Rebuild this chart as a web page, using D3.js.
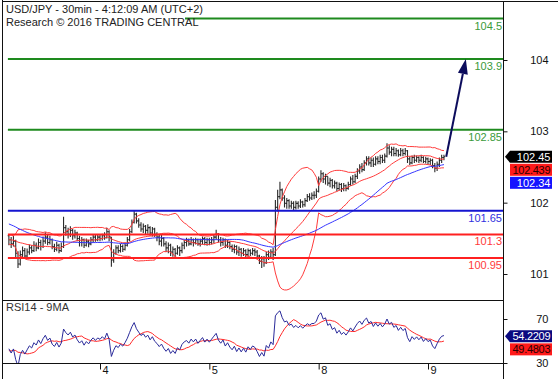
<!DOCTYPE html>
<html>
<head>
<meta charset="utf-8">
<script src="https://cdn.jsdelivr.net/npm/d3@7"></script>
<style>
body { margin: 0; background: #fff; }
svg text { font-family: "Liberation Sans", Arial, sans-serif; font-size: 11px; }
</style>
</head>
<body>
<script>
// day boundaries (bar index of 00:00) and their labels
const dayStarts = [40, 88, 136, 184];
const dayLabels = ["4", "5", "8", "9"];

// closes before the first visible bar, only used to seed the indicators
const warmupCloses = [101.92,101.88,101.90,101.84,101.86,101.80,101.82,101.76,101.78,101.72,
  101.74,101.70,101.66,101.68,101.62,101.64,101.58,101.60,101.54,101.56,
  101.50,101.52,101.46,101.48,101.42,101.44,101.38,101.40,101.34,101.36,
  101.30,101.26,101.28,101.22,101.24,101.18,101.20,101.16,101.22,101.18,
  101.24,101.20,101.26,101.22,101.18,101.24,101.20,101.26,101.22,101.28];

// 30min bars
const closes = [101.22,101.16,101.20,101.02,100.86,101.00,101.06,100.98,101.04,101.10,
  101.06,101.14,101.10,101.18,101.12,101.20,101.26,101.18,101.22,101.12,
  101.08,101.14,101.06,101.12,101.40,101.34,101.30,101.36,101.28,101.32,
  101.24,101.18,101.22,101.14,101.20,101.16,101.22,101.26,101.22,101.26,
  101.24,101.28,101.25,101.34,101.26,100.92,101.02,101.10,101.06,101.12,
  101.08,101.14,101.22,101.34,101.48,101.60,101.50,101.44,101.38,101.42,
  101.36,101.40,101.32,101.38,101.30,101.26,101.20,101.24,101.16,101.10,
  101.14,101.04,101.08,101.02,101.10,101.06,101.14,101.18,101.20,101.16,
  101.22,101.18,101.22,101.16,101.20,101.24,101.18,101.22,101.18,101.22,
  101.26,101.30,101.22,101.18,101.22,101.14,101.18,101.12,101.08,101.12,
  101.04,101.08,101.02,101.06,101.00,101.06,101.02,101.06,101.04,100.98,
  100.90,100.94,100.88,101.00,100.96,101.04,101.00,101.70,101.86,101.96,
  101.84,101.76,101.80,101.72,101.76,101.70,101.76,101.72,101.78,101.74,
  101.80,101.86,101.84,101.88,101.88,101.94,102.12,102.20,102.12,102.16,
  102.06,102.10,102.02,102.06,101.98,102.04,101.98,102.02,101.98,102.04,
  102.12,102.08,102.16,102.24,102.30,102.26,102.36,102.42,102.36,102.40,
  102.34,102.42,102.38,102.44,102.40,102.46,102.58,102.52,102.56,102.50,
  102.54,102.48,102.54,102.50,102.54,102.42,102.36,102.44,102.40,102.44,
  102.40,102.44,102.38,102.42,102.38,102.40,102.32,102.28,102.34,102.40,
  102.44,102.45];
const highs = [101.30,101.26,101.28,101.22,101.05,101.06,101.12,101.10,101.09,101.15,
  101.14,101.20,101.18,101.24,101.22,101.27,101.33,101.29,101.28,101.24,
  101.16,101.19,101.16,101.18,101.56,101.44,101.40,101.42,101.38,101.37,
  101.34,101.28,101.26,101.24,101.24,101.22,101.26,101.30,101.29,101.30,
  101.29,101.31,101.33,101.40,101.36,101.26,101.08,101.14,101.14,101.16,
  101.15,101.18,101.26,101.38,101.52,101.66,101.62,101.54,101.48,101.46,
  101.44,101.45,101.42,101.41,101.40,101.33,101.30,101.29,101.26,101.20,
  101.18,101.16,101.12,101.10,101.14,101.12,101.18,101.22,101.25,101.24,
  101.26,101.24,101.25,101.24,101.24,101.27,101.26,101.25,101.25,101.26,
  101.30,101.37,101.32,101.26,101.25,101.24,101.22,101.20,101.15,101.15,
  101.14,101.12,101.10,101.10,101.08,101.09,101.08,101.10,101.09,101.07,
  101.00,100.98,100.98,101.04,101.06,101.08,101.10,101.81,101.96,102.08,
  101.98,101.88,101.84,101.82,101.80,101.79,101.80,101.79,101.82,101.80,
  101.84,101.90,101.91,101.92,101.94,101.98,102.16,102.25,102.22,102.20,
  102.16,102.14,102.12,102.10,102.08,102.07,102.06,102.06,102.04,102.08,
  102.16,102.18,102.20,102.28,102.34,102.36,102.40,102.46,102.46,102.44,
  102.44,102.46,102.46,102.48,102.48,102.50,102.65,102.62,102.60,102.60,
  102.58,102.56,102.58,102.57,102.58,102.55,102.46,102.47,102.48,102.47,
  102.46,102.48,102.46,102.45,102.44,102.43,102.42,102.36,102.38,102.44,
  102.48,102.48];
const lows = [101.14,101.10,101.12,100.95,100.80,100.84,100.96,100.94,100.95,101.00,
  101.02,101.04,101.05,101.08,101.06,101.10,101.16,101.14,101.15,101.08,
  101.04,101.05,101.02,101.04,101.10,101.28,101.24,101.26,101.22,101.24,
  101.20,101.12,101.12,101.10,101.12,101.11,101.14,101.18,101.19,101.20,
  101.20,101.21,101.22,101.24,101.20,100.82,100.88,101.00,101.02,101.03,
  101.04,101.06,101.12,101.20,101.32,101.46,101.46,101.40,101.34,101.32,
  101.30,101.31,101.28,101.27,101.26,101.20,101.14,101.12,101.12,101.04,
  101.02,100.98,100.97,100.96,101.00,100.98,101.02,101.08,101.12,101.13,
  101.14,101.12,101.15,101.13,101.12,101.15,101.14,101.13,101.14,101.15,
  101.17,101.22,101.18,101.12,101.13,101.10,101.10,101.08,101.04,101.02,
  101.00,100.98,100.97,100.98,100.96,100.97,100.98,100.99,100.98,100.94,
  100.86,100.80,100.82,100.86,100.92,100.94,100.92,100.98,101.64,101.82,
  101.80,101.70,101.68,101.68,101.68,101.66,101.67,101.68,101.69,101.70,
  101.71,101.78,101.80,101.81,101.82,101.84,101.92,102.08,102.06,102.04,
  102.02,102.00,101.98,101.98,101.94,101.95,101.93,101.94,101.94,101.96,
  102.02,102.04,102.06,102.12,102.20,102.22,102.24,102.32,102.32,102.30,
  102.30,102.32,102.34,102.34,102.36,102.36,102.44,102.48,102.46,102.46,
  102.46,102.45,102.46,102.46,102.47,102.36,102.33,102.34,102.36,102.37,
  102.36,102.37,102.36,102.35,102.34,102.33,102.28,102.22,102.24,102.30,
  102.36,102.40];

// key levels from the analyst
const levels = [104.5, 103.9, 102.85, 101.65, 101.3, 100.95];
const levelKinds = ["target", "target", "target", "pivot", "support", "support"];

// projected path (bar index, price)
const projection = [[192, 102.45], [200.6, 103.9]];

// last values shown on the axes
const lastPrice = 102.45, lastBBMid = 102.439, lastMA = 102.34;
const lastRsi = 54.2209, lastRsiMA = 49.4803;

const priceTicks = [101, 102, 103, 104];
const rsiTicks = [30, 70];

const W = 558, H = 379;
const left = 2, right = 503;
const mainBottom = 300, rsiBottom = 363;

const kindColor = { target: "#1e8a1e", pivot: "#1515d0", support: "#ff2020" };
const kindText = { target: "#3a9a3a", pivot: "#3030e0", support: "#ff3a3a" };

const svg = d3.select("body").append("svg").attr("width", W).attr("height", H);

const x = d3.scaleLinear().domain([dayStarts[0], dayStarts[3]]).range([100, 428]);
const y = d3.scaleLinear().domain([100.95, 103.9]).range([258, 59]);
const yTicks = d3.scaleLinear().domain([101, 104]).range([274, 60]);
const yRsi = d3.scaleLinear().domain([30, 70]).range([363, 319]);

const defs = svg.append("defs");
defs.append("clipPath").attr("id", "clipMain").append("rect")
  .attr("x", left + 1).attr("y", 2).attr("width", right - left - 1).attr("height", mainBottom - 2);
defs.append("clipPath").attr("id", "clipRsi").append("rect")
  .attr("x", left + 1).attr("y", mainBottom + 1).attr("width", right - left - 1).attr("height", rsiBottom - mainBottom - 1);

// ---- indicators
const all = warmupCloses.concat(closes);
const off = warmupCloses.length;

function sma(arr, n, k) {
  if (k - n + 1 < 0) return null;
  return d3.mean(arr.slice(k - n + 1, k + 1));
}

const bb = closes.map((c, i) => {
  const k = i + off;
  const win = all.slice(k - 19, k + 1);
  const m = d3.mean(win);
  const sd = Math.sqrt(d3.mean(win, v => (v - m) * (v - m)));
  return { i, mid: m, up: m + 2 * sd, lo: m - 2 * sd, ma: sma(all, 50, k) };
});

let ag = 0, al = 0;
const rsiAll = new Array(all.length).fill(null);
for (let k = 1; k < all.length; k++) {
  const ch = all[k] - all[k - 1];
  const g = Math.max(ch, 0), l = Math.max(-ch, 0);
  if (k <= 14) {
    ag += g / 14; al += l / 14;
    if (k < 14) continue;
  } else {
    ag = (ag * 13 + g) / 14;
    al = (al * 13 + l) / 14;
  }
  rsiAll[k] = al === 0 ? 100 : 100 - 100 / (1 + ag / al);
}
const rsi = closes.map((c, i) => {
  const k = i + off;
  const win = rsiAll.slice(k - 8, k + 1);
  return { i, v: rsiAll[k], ma: win.some(v => v == null) ? null : d3.mean(win) };
});

// ---- main panel
const main = svg.append("g").attr("clip-path", "url(#clipMain)");

// bars
main.append("g").selectAll("path")
  .data(closes.map((c, i) => ({ i, o: i ? closes[i - 1] : warmupCloses[off - 1], h: highs[i], l: lows[i], c })))
  .join("path")
  .attr("d", d => {
    const xi = x(d.i);
    return `M${xi},${y(d.h)}V${y(d.l)}M${xi - 1.2},${y(d.o)}H${xi}M${xi},${y(d.c)}H${xi + 1.2}`;
  })
  .attr("fill", "none")
  .attr("stroke", "#2a2a2a")
  .attr("stroke-width", 1.1);

const lineOf = (fy) => d3.line().defined(d => fy(d) != null).x(d => x(d.i)).y(d => fy(d));

["up", "mid", "lo"].forEach(key => {
  main.append("path").datum(bb)
    .attr("d", lineOf(d => y(d[key])))
    .attr("fill", "none").attr("stroke", "#ff3b3b").attr("stroke-width", 1);
});
main.append("path").datum(bb)
  .attr("d", lineOf(d => d.ma == null ? null : y(d.ma)))
  .attr("fill", "none").attr("stroke", "#3535ff").attr("stroke-width", 1);

// level lines
main.append("g").selectAll("line").data(levels).join("line")
  .attr("x1", x(0) - 1).attr("x2", right)
  .attr("y1", d => y(d)).attr("y2", d => y(d))
  .attr("stroke", (d, i) => kindColor[levelKinds[i]])
  .attr("stroke-width", 2);

svg.append("g").selectAll("text").data(levels).join("text")
  .attr("x", right - 1).attr("y", d => y(d) + 11)
  .attr("text-anchor", "end")
  .attr("fill", (d, i) => kindText[levelKinds[i]])
  .text(d => d);

// projection arrow
const p0 = [x(projection[0][0]), y(projection[0][1])];
const p1 = [x(projection[1][0]), y(projection[1][1])];
const ang = Math.atan2(p1[1] - p0[1], p1[0] - p0[0]);
const headLen = 15, headW = 5;
const base = [p1[0] - headLen * Math.cos(ang), p1[1] - headLen * Math.sin(ang)];
svg.append("line")
  .attr("x1", p0[0]).attr("y1", p0[1]).attr("x2", base[0]).attr("y2", base[1])
  .attr("stroke", "#0c0c5c").attr("stroke-width", 2);
svg.append("path")
  .attr("d", `M${p1[0]},${p1[1]}L${base[0] + headW * Math.sin(ang)},${base[1] - headW * Math.cos(ang)}L${base[0] - headW * Math.sin(ang)},${base[1] + headW * Math.cos(ang)}Z`)
  .attr("fill", "#0c0c5c");

// title
svg.append("rect").attr("x", left + 1).attr("y", 2).attr("width", 182).attr("height", 26).attr("fill", "#fff");
svg.append("text").attr("x", 6).attr("y", 13).attr("fill", "#222").text("USD/JPY - 30min - 4:12:09 AM (UTC+2)");
svg.append("text").attr("x", 6).attr("y", 26).attr("fill", "#222").text("Research \u00a9 2016 TRADING CENTRAL");

// ---- RSI panel
const rsiG = svg.append("g").attr("clip-path", "url(#clipRsi)");
rsiG.append("path").datum(rsi)
  .attr("d", lineOf(d => d.ma == null ? null : yRsi(d.ma)))
  .attr("fill", "none").attr("stroke", "#ff2a2a").attr("stroke-width", 1);
rsiG.append("path").datum(rsi)
  .attr("d", lineOf(d => d.v == null ? null : yRsi(d.v)))
  .attr("fill", "none").attr("stroke", "#2a2a9a").attr("stroke-width", 1);
svg.append("text").attr("x", 6).attr("y", 311).attr("fill", "#333").text("RSI14 - 9MA");

// ---- frame and axes
const frame = svg.append("g").attr("stroke", "#111").attr("stroke-width", 1).attr("shape-rendering", "crispEdges");
frame.append("line").attr("x1", left + 0.5).attr("x2", left + 0.5).attr("y1", 0).attr("y2", H);
frame.append("line").attr("x1", left).attr("x2", W).attr("y1", 1.5).attr("y2", 1.5);
frame.append("line").attr("x1", right + 0.5).attr("x2", right + 0.5).attr("y1", 1).attr("y2", H);
frame.append("line").attr("x1", left).attr("x2", right).attr("y1", mainBottom + 0.5).attr("y2", mainBottom + 0.5);
frame.append("line").attr("x1", left).attr("x2", right).attr("y1", rsiBottom + 0.5).attr("y2", rsiBottom + 0.5);

const priceAxis = d3.axisRight(yTicks).tickValues(priceTicks).tickSize(4).tickPadding(25).tickFormat(d3.format("d"));
const rsiAxis = d3.axisRight(yRsi).tickValues(rsiTicks).tickSize(4).tickPadding(34).tickFormat(d3.format("d"));
[priceAxis, rsiAxis].forEach(ax => {
  const g = svg.append("g").attr("transform", `translate(${right + 0.5},0)`).call(ax);
  g.select(".domain").remove();
  g.selectAll("line").attr("stroke", "#111");
  g.selectAll("text").attr("font-size", 11).attr("font-family", "Liberation Sans, Arial, sans-serif")
    .attr("fill", "#111").attr("text-anchor", "end").attr("x", 45);
});

const dayAxis = svg.append("g").attr("transform", `translate(0,${rsiBottom + 0.5})`)
  .call(d3.axisBottom(x).tickValues(dayStarts).tickSize(6).tickFormat((d, i) => dayLabels[i]));
dayAxis.select(".domain").remove();
dayAxis.selectAll("line").attr("stroke", "#111");
dayAxis.selectAll("text").attr("font-size", 11).attr("font-family", "Liberation Sans, Arial, sans-serif")
  .attr("fill", "#111").attr("text-anchor", "start").attr("x", 2).attr("y", 3);

// ---- value labels at the right
function valueBox(cy, txt, bg, fg, arrow) {
  const g = svg.append("g");
  const x0 = right + 7, x1 = right + 49, h = 12;
  if (arrow) {
    g.append("path")
      .attr("d", `M${right + 2},${cy}L${x0},${cy - h / 2}H${x1}V${cy + h / 2}H${x0}Z`)
      .attr("fill", bg);
  } else {
    g.append("rect").attr("x", x0).attr("y", cy - h / 2).attr("width", x1 - x0).attr("height", h).attr("fill", bg);
  }
  g.append("text").attr("x", x1 - 1.5).attr("y", cy + 4).attr("text-anchor", "end")
    .attr("fill", fg).attr("font-size", 10.5).attr("textLength", txt.length > 6 ? 38 : null).text(txt);
}
const cy0 = y(lastPrice);
valueBox(cy0, lastPrice.toFixed(2), "#000", "#fff", true);
valueBox(cy0 + 13, lastBBMid.toFixed(3), "#ff1a1a", "#2a0000", false);
valueBox(cy0 + 26, lastMA.toFixed(2), "#1414ff", "#fff", false);

const ry0 = yRsi(lastRsi);
valueBox(ry0, lastRsi.toFixed(4), "#0a0a80", "#fff", true);
valueBox(ry0 + 13, lastRsiMA.toFixed(4), "#ff1a1a", "#2a0000", false);
</script>
</body>
</html>
